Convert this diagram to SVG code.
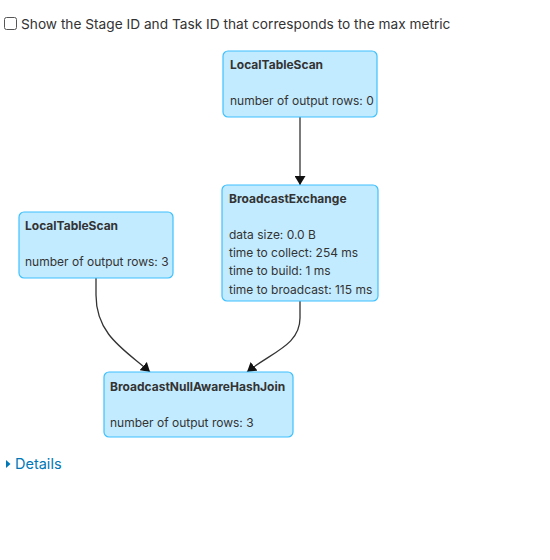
<svg xmlns="http://www.w3.org/2000/svg" width="550" height="560" viewBox="0 0 550 560">
<style>
text{font-family:Inter,"Liberation Sans",Arial,sans-serif;fill:#333}
.node rect{fill:#c3ebff;stroke:#3ec0ff;stroke-width:1.2}
.t{font-weight:bold;font-size:12px}
.m{font-size:12px}
.edge{fill:none;stroke:#333;stroke-width:1.3}
</style>
<defs>
<marker id="ah" viewBox="0 0 10 10" refX="10" refY="5" markerWidth="9" markerHeight="11" preserveAspectRatio="none" markerUnits="userSpaceOnUse" orient="auto">
<path d="M0,0 L10,5 L0,10 z" fill="#111"/>
</marker>
</defs>
<rect x="4.5" y="17.5" width="12" height="12" rx="2" fill="#fff" stroke="#555"/>
<text x="21" y="29" style="font-size:13.7px">Show the Stage ID and Task ID that corresponds to the max metric</text>
<g id="edges">
<path class="edge" d="M300,117 L300,185" marker-end="url(#ah)"/>
<path class="edge" d="M96,278 L96,295 C96,335 125,350 150,372" marker-end="url(#ah)"/>
<path class="edge" d="M300,301 L300,318 C300,345 272,352 247,372" marker-end="url(#ah)"/>
</g>
<g id="n1" class="node">
<rect x="223" y="51" width="154" height="66" rx="5"/>
<text class="t" x="230" y="69">LocalTableScan</text>
<text class="m" x="230" y="105">number of output rows: 0</text>
</g>
<g id="n2" class="node">
<rect x="222" y="185" width="156" height="116" rx="5"/>
<text class="t" x="229" y="203">BroadcastExchange</text>
<text class="m" x="229" y="239">data size: 0.0 B</text>
<text class="m" x="229" y="257">time to collect: 254 ms</text>
<text class="m" x="229" y="275">time to build: 1 ms</text>
<text class="m" x="229" y="294">time to broadcast: 115 ms</text>
</g>
<g id="n3" class="node">
<rect x="19" y="212" width="154" height="66" rx="5"/>
<text class="t" x="25" y="230">LocalTableScan</text>
<text class="m" x="25" y="266">number of output rows: 3</text>
</g>
<g id="n4" class="node">
<rect x="104" y="372" width="189" height="65" rx="5"/>
<text class="t" x="110" y="391">BroadcastNullAwareHashJoin</text>
<text class="m" x="110" y="427">number of output rows: 3</text>
</g>
<path d="M6,460 L10.5,464 L6,468 z" fill="#0077b6"/>
<text x="15" y="469" style="font-size:14.5px;fill:#0077b6">Details</text>
</svg>
